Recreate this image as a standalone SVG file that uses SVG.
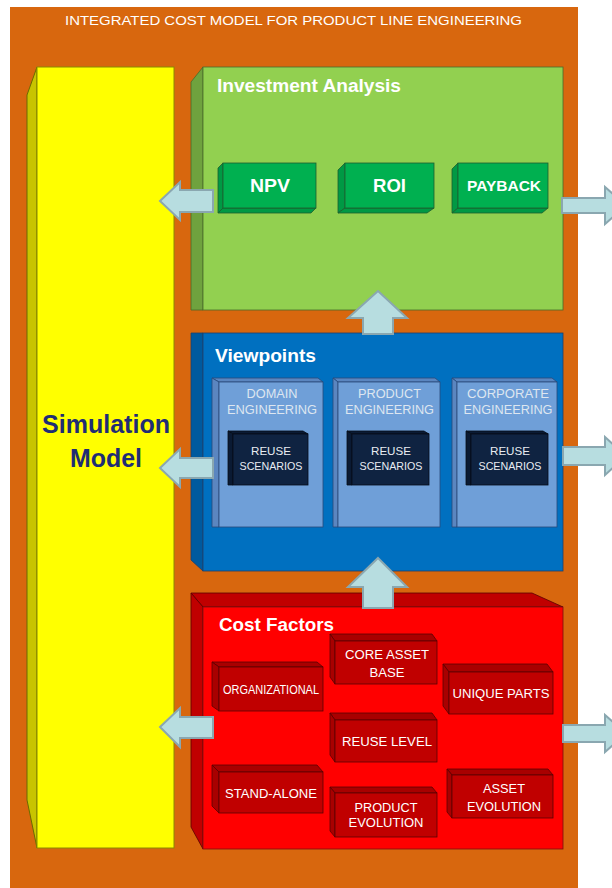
<svg xmlns="http://www.w3.org/2000/svg" width="612" height="888" viewBox="0 0 612 888">
<style>
  text { font-family: "Liberation Sans", Arial, sans-serif; }
  .wt { fill: #ffffff; font-weight: bold; }
  .hdr { fill: #ffffff; font-weight: bold; font-size: 18px; }
  .arrow { fill: #b7dde0; stroke: #8aa7b0; stroke-width: 2; stroke-linejoin: miter; }
  .gside { fill: #6fa23e; stroke: #4a6b2a; stroke-width: 0.8; }
  .gbox { fill: #00b050; stroke: #1d5e2f; stroke-width: 0.8; }
  .gboxs { fill: #009944; stroke: #1d5e2f; stroke-width: 0.8; }
  .rbox { fill: #c00000; stroke: #5a0000; stroke-width: 0.8; }
  .rboxs { fill: #a80000; stroke: #5a0000; stroke-width: 0.8; }
  .vp { fill: #6f9fd8; stroke: #2a4a7a; stroke-width: 0.8; }
  .vps { fill: #5b86c0; stroke: #2a4a7a; stroke-width: 0.8; }
  .rs { fill: #0f2341; stroke: #050c18; stroke-width: 0.8; }
  .rss { fill: #0a1a33; stroke: #050c18; stroke-width: 0.8; }
  .vpt { fill: #dde6f0; font-size: 12px; text-anchor: middle; }
  .rst { fill: #e8ecf2; font-size: 10.5px; text-anchor: middle; }
  .cft { fill: #ffffff; font-size: 12.5px; text-anchor: middle; }
</style>

<!-- background -->
<rect x="0" y="0" width="612" height="888" fill="#ffffff"/>
<rect x="10" y="7" width="568" height="881" fill="#d8670e"/>
<text x="293.5" y="25" fill="#ffffff" font-size="13.5" text-anchor="middle" textLength="457" lengthAdjust="spacingAndGlyphs">INTEGRATED COST MODEL FOR PRODUCT LINE ENGINEERING</text>

<!-- Simulation Model -->
<g id="simulation-model">
  <polygon points="27,95 37,67 37,848 27,800" fill="#c8c400" stroke="#6b6b00" stroke-width="1"/>
  <rect x="37" y="67" width="137" height="781" fill="#ffff00" stroke="#8a8a00" stroke-width="1"/>
  <text x="106" y="433" fill="#1f2d74" font-size="25" font-weight="bold" text-anchor="middle" textLength="128" lengthAdjust="spacingAndGlyphs">Simulation</text>
  <text x="106" y="467" fill="#1f2d74" font-size="25" font-weight="bold" text-anchor="middle" textLength="72" lengthAdjust="spacingAndGlyphs">Model</text>
</g>

<!-- Investment Analysis -->
<g id="investment-analysis">
  <polygon class="gside" points="191,82 203,67 203,310 191,310"/>
  <rect x="203" y="67" width="360" height="243" fill="#92d050" stroke="#4a6b2a" stroke-width="0.8"/>
  <text x="217" y="92" class="hdr" textLength="184" lengthAdjust="spacingAndGlyphs">Investment Analysis</text>
</g>
<g id="npv">
  <polygon class="gboxs" points="218,168 223,163 223,208 218,213"/>
  <polygon class="gboxs" points="218,213 223,208 316,208 311,213"/>
  <rect class="gbox" x="223" y="163" width="93" height="45"/>
  <text x="270" y="192" class="wt" font-size="18" text-anchor="middle" textLength="40" lengthAdjust="spacingAndGlyphs">NPV</text>
</g>
<g id="roi">
  <polygon class="gboxs" points="338,170 345,163 345,208 338,213"/>
  <polygon class="gboxs" points="338,213 345,208 434,208 427,213"/>
  <rect class="gbox" x="345" y="163" width="89" height="45"/>
  <text x="389.5" y="192" class="wt" font-size="18" text-anchor="middle" textLength="33" lengthAdjust="spacingAndGlyphs">ROI</text>
</g>
<g id="payback">
  <polygon class="gboxs" points="452,169 458,163 458,208 452,213"/>
  <polygon class="gboxs" points="452,213 458,208 548,208 542,213"/>
  <rect class="gbox" x="458" y="163" width="90" height="45"/>
  <text x="504" y="191" class="wt" font-size="14" text-anchor="middle" textLength="74" lengthAdjust="spacingAndGlyphs">PAYBACK</text>
</g>

<!-- Viewpoints -->
<g id="viewpoints">
  <polygon points="191,333 203,333 203,571 191,560" fill="#005a9e" stroke="#1f3f6a" stroke-width="0.8"/>
  <rect x="203" y="333" width="360" height="238" fill="#0070c0" stroke="#1f3f6a" stroke-width="0.8"/>
  <text x="215" y="362" class="hdr" textLength="101" lengthAdjust="spacingAndGlyphs">Viewpoints</text>
</g>
<g id="domain-engineering">
  <polygon class="vps" points="212,378 318,378 323,382 219,382"/>
  <polygon class="vps" points="212,378 219,382 219,527 212,527"/>
  <rect class="vp" x="219" y="382" width="104" height="145"/>
  <text x="272" y="398" class="vpt" textLength="51" lengthAdjust="spacingAndGlyphs">DOMAIN</text>
  <text x="272" y="414" class="vpt" textLength="90" lengthAdjust="spacingAndGlyphs">ENGINEERING</text>
</g>
<g id="product-engineering">
  <polygon class="vps" points="333,378 435,378 440,382 338,382"/>
  <polygon class="vps" points="333,378 338,382 338,527 333,527"/>
  <rect class="vp" x="338" y="382" width="102" height="145"/>
  <text x="389.5" y="398" class="vpt" textLength="63" lengthAdjust="spacingAndGlyphs">PRODUCT</text>
  <text x="389.5" y="414" class="vpt" textLength="89" lengthAdjust="spacingAndGlyphs">ENGINEERING</text>
</g>
<g id="corporate-engineering">
  <polygon class="vps" points="452,378 552,378 557,382 457,382"/>
  <polygon class="vps" points="452,378 457,382 457,527 452,527"/>
  <rect class="vp" x="457" y="382" width="100" height="145"/>
  <text x="508" y="398" class="vpt" textLength="82" lengthAdjust="spacingAndGlyphs">CORPORATE</text>
  <text x="508" y="414" class="vpt" textLength="89" lengthAdjust="spacingAndGlyphs">ENGINEERING</text>
</g>
<g id="reuse-scenarios-1">
  <polygon class="rss" points="228,431 303,431 308,434 233,434"/>
  <polygon class="rss" points="228,431 233,434 233,485 228,485"/>
  <rect class="rs" x="233" y="434" width="75" height="51"/>
  <text x="271" y="455" class="rst" textLength="40" lengthAdjust="spacingAndGlyphs">REUSE</text>
  <text x="271" y="470" class="rst" textLength="63" lengthAdjust="spacingAndGlyphs">SCENARIOS</text>
</g>
<g id="reuse-scenarios-2">
  <polygon class="rss" points="347,431 424,431 429,434 352,434"/>
  <polygon class="rss" points="347,431 352,434 352,485 347,485"/>
  <rect class="rs" x="352" y="434" width="77" height="51"/>
  <text x="391" y="455" class="rst" textLength="40" lengthAdjust="spacingAndGlyphs">REUSE</text>
  <text x="391" y="470" class="rst" textLength="63" lengthAdjust="spacingAndGlyphs">SCENARIOS</text>
</g>
<g id="reuse-scenarios-3">
  <polygon class="rss" points="466,431 543,431 548,434 471,434"/>
  <polygon class="rss" points="466,431 471,434 471,485 466,485"/>
  <rect class="rs" x="471" y="434" width="77" height="51"/>
  <text x="510" y="455" class="rst" textLength="40" lengthAdjust="spacingAndGlyphs">REUSE</text>
  <text x="510" y="470" class="rst" textLength="63" lengthAdjust="spacingAndGlyphs">SCENARIOS</text>
</g>

<!-- Cost Factors -->
<g id="cost-factors">
  <polygon points="191,593 532,593 563,607 203,607" fill="#c00000" stroke="#5a0000" stroke-width="0.8"/>
  <polygon points="191,593 203,607 203,849 191,827" fill="#c00000" stroke="#5a0000" stroke-width="0.8"/>
  <rect x="203" y="607" width="360" height="242" fill="#ff0000" stroke="#7a1010" stroke-width="0.8"/>
  <text x="219" y="631" class="hdr" textLength="115" lengthAdjust="spacingAndGlyphs">Cost Factors</text>
</g>
<g id="organizational">
  <polygon class="rboxs" points="212,662 317,662 323,667 219,667"/>
  <polygon class="rboxs" points="212,662 219,667 219,711 212,706"/>
  <rect class="rbox" x="219" y="667" width="104" height="44"/>
  <text x="271" y="694" class="cft" font-size="10.5" textLength="96" lengthAdjust="spacingAndGlyphs">ORGANIZATIONAL</text>
</g>
<g id="core-asset-base">
  <polygon class="rboxs" points="330,634 432,634 437,641 335,641"/>
  <polygon class="rboxs" points="330,634 335,641 335,684 330,677"/>
  <rect class="rbox" x="335" y="641" width="102" height="43"/>
  <text x="387" y="659" class="cft" textLength="84" lengthAdjust="spacingAndGlyphs">CORE ASSET</text>
  <text x="387" y="677" class="cft" textLength="35" lengthAdjust="spacingAndGlyphs">BASE</text>
</g>
<g id="unique-parts">
  <polygon class="rboxs" points="443,664 547,664 553,672 449,672"/>
  <polygon class="rboxs" points="443,664 449,672 449,714 443,706"/>
  <rect class="rbox" x="449" y="672" width="104" height="42"/>
  <text x="501" y="698" class="cft" font-size="13" textLength="97" lengthAdjust="spacingAndGlyphs">UNIQUE PARTS</text>
</g>
<g id="reuse-level">
  <polygon class="rboxs" points="330,713 432,713 437,720 335,720"/>
  <polygon class="rboxs" points="330,713 335,720 335,762 330,755"/>
  <rect class="rbox" x="335" y="720" width="102" height="42"/>
  <text x="387" y="746" class="cft" textLength="90" lengthAdjust="spacingAndGlyphs">REUSE LEVEL</text>
</g>
<g id="stand-alone">
  <polygon class="rboxs" points="212,765 317,765 323,772 219,772"/>
  <polygon class="rboxs" points="212,765 219,772 219,813 212,806"/>
  <rect class="rbox" x="219" y="772" width="104" height="41"/>
  <text x="271" y="798" class="cft" textLength="92" lengthAdjust="spacingAndGlyphs">STAND-ALONE</text>
</g>
<g id="product-evolution">
  <polygon class="rboxs" points="330,787 432,787 437,793 335,793"/>
  <polygon class="rboxs" points="330,787 335,793 335,837 330,831"/>
  <rect class="rbox" x="335" y="793" width="102" height="44"/>
  <text x="386" y="812" class="cft" textLength="63" lengthAdjust="spacingAndGlyphs">PRODUCT</text>
  <text x="386" y="827" class="cft" textLength="75" lengthAdjust="spacingAndGlyphs">EVOLUTION</text>
</g>
<g id="asset-evolution">
  <polygon class="rboxs" points="447,769 548,769 553,775 452,775"/>
  <polygon class="rboxs" points="447,769 452,775 452,818 447,812"/>
  <rect class="rbox" x="452" y="775" width="101" height="43"/>
  <text x="504" y="793" class="cft" textLength="42" lengthAdjust="spacingAndGlyphs">ASSET</text>
  <text x="504" y="811" class="cft" textLength="74" lengthAdjust="spacingAndGlyphs">EVOLUTION</text>
</g>

<!-- connectors (block arrows) -->
<g id="connectors">
  <polygon class="arrow" points="160,201 180,182 180,190 213,190 213,212 180,212 180,220"/>
  <polygon class="arrow" points="160,468 180,449 180,458 213,458 213,478 180,478 180,487"/>
  <polygon class="arrow" points="160,727 180,708 180,717 213,717 213,738 180,738 180,747"/>
  <polygon class="arrow" points="562,198 605,198 605,187 626,205.5 605,224 605,213 562,213"/>
  <polygon class="arrow" points="563,447 605,447 605,437 626,456 605,475 605,465 563,465"/>
  <polygon class="arrow" points="563,725 605,725 605,715 626,733.5 605,752 605,742 563,742"/>
  <polygon class="arrow" points="378,291 407,318 393,318 393,334 363,334 363,318 348,318"/>
  <polygon class="arrow" points="378,558 407,587 393,587 393,608 363,608 363,587 348,587"/>
</g>
</svg>
